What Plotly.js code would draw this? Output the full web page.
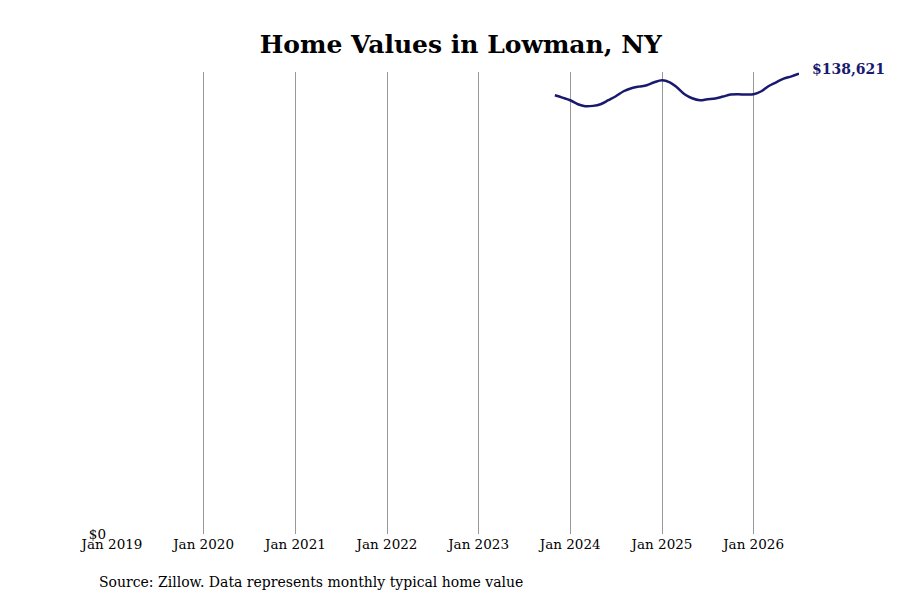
<!DOCTYPE html>
<html>
<head>
<meta charset="utf-8">
<script src="https://cdn.plot.ly/plotly-3.0.1.min.js"></script>
<style>
  html, body { margin: 0; padding: 0; background: #fff; }
  #chart { width: 900px; height: 600px; }
</style>
</head>
<body>
<div id="chart"></div>
<script>
// monthly typical home value
var months = [
  "2023-11-01", "2023-12-01",
  "2024-01-01", "2024-02-01", "2024-03-01", "2024-04-01", "2024-05-01", "2024-06-01",
  "2024-07-01", "2024-08-01", "2024-09-01", "2024-10-01", "2024-11-01", "2024-12-01",
  "2025-01-01", "2025-02-01", "2025-03-01", "2025-04-01", "2025-05-01", "2025-06-01",
  "2025-07-01", "2025-08-01", "2025-09-01", "2025-10-01", "2025-11-01", "2025-12-01",
  "2026-01-01", "2026-02-01", "2026-03-01", "2026-04-01", "2026-05-01", "2026-06-01",
  "2026-07-01"
];
var values = [
  132100, 131400,
  130600, 129400, 128800, 128900, 129400, 130600,
  131800, 133300, 134200, 134700, 135100, 136000,
  136600, 136000, 134500, 132400, 131200, 130600,
  130900, 131100, 131700, 132300, 132400, 132300,
  132400, 133300, 134800, 136000, 137100, 137800,
  138621
];
var tickDates = ["2019-01-01", "2020-01-01", "2021-01-01", "2022-01-01",
                 "2023-01-01", "2024-01-01", "2025-01-01", "2026-01-01"];
var tickLabels = ["Jan 2019", "Jan 2020", "Jan 2021", "Jan 2022",
                  "Jan 2023", "Jan 2024", "Jan 2025", "Jan 2026"];

var serif = "DejaVu Serif, serif";
var navy = "#191970";

var last = values.length - 1;
var lastLabel = "$" + values[last].toLocaleString("en-US");

var trace = {
  x: months,
  y: values,
  type: "scatter",
  mode: "lines",
  line: { color: navy, width: 2.5, shape: "spline" },
  hoverinfo: "skip"
};

var layout = {
  width: 900,
  height: 600,
  margin: { l: 112, r: 101, t: 72, b: 66 },
  paper_bgcolor: "#fff",
  plot_bgcolor: "#fff",
  showlegend: false,
  title: {
    text: "<b>Home Values in Lowman, NY</b>",
    font: { family: serif, size: 25, color: "#000" },
    x: 0.512, xanchor: "center",
    y: 0.927, yanchor: "middle"
  },
  xaxis: {
    type: "date",
    range: ["2019-01-01", "2026-07-01"],
    tickvals: tickDates,
    ticktext: tickLabels,
    showgrid: true,
    gridcolor: "#999",
    gridwidth: 1,
    showline: false,
    zeroline: false,
    ticks: "",
    tickfont: { family: serif, size: 13.5, color: "#000" }
  },
  yaxis: {
    range: [0, 139100],
    tickvals: [0],
    ticktext: ["$0"],
    showgrid: false,
    zeroline: false,
    showline: false,
    ticks: "",
    ticklabelstandoff: 5,
    tickfont: { family: serif, size: 13.5, color: "#000" }
  },
  annotations: [
    {
      x: months[last], y: values[last],
      xref: "x", yref: "y",
      text: "<b>" + lastLabel + "</b>",
      showarrow: false,
      xanchor: "left", yanchor: "middle",
      xshift: 11, yshift: 5,
      font: { family: serif, size: 14, color: navy }
    },
    {
      // source line below the axis, placed in paper units from pixels
      x: (97 - 112) / (900 - 112 - 101),
      y: (600 - 66 - 582) / (600 - 72 - 66),
      xref: "paper", yref: "paper",
      xanchor: "left", yanchor: "middle",
      text: "Source: Zillow. Data represents monthly typical home value",
      showarrow: false,
      font: { family: serif, size: 14, color: "#000" }
    }
  ]
};

Plotly.newPlot("chart", [trace], layout, { displayModeBar: false, staticPlot: true });
</script>
</body>
</html>
